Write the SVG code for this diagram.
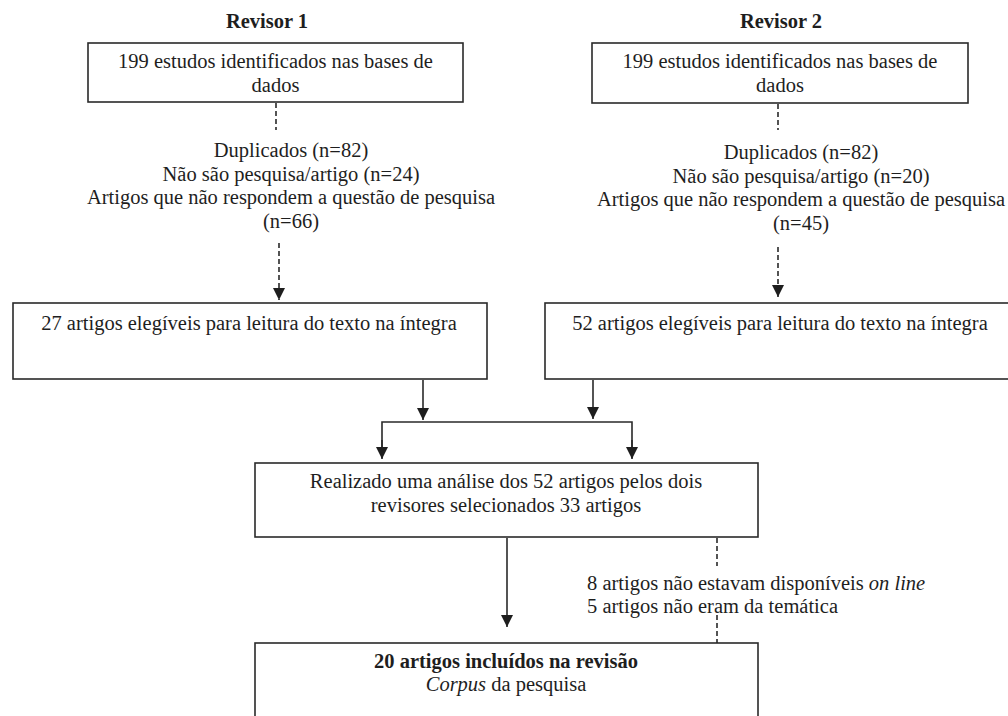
<svg xmlns="http://www.w3.org/2000/svg" width="1008" height="716" viewBox="0 0 1008 716">
<style>
  text { font-family: "Times New Roman", "Liberation Serif", Tinos, "DejaVu Serif", serif; font-size: 20.5px; font-weight: 400; fill: #1e1e1e; }
  .c { text-anchor: middle; }
  .b { font-weight: 700; }
  .box { fill: #ffffff; stroke: #2a2a2a; stroke-width: 1.6; }
  .ln { fill: none; stroke: #2a2a2a; stroke-width: 1.6; }
  .dash { fill: none; stroke: #2a2a2a; stroke-width: 1.6; stroke-dasharray: 5 3; }
</style>
<defs>
  <marker id="arr" viewBox="0 0 12 12" refX="12" refY="6" markerWidth="12" markerHeight="12" markerUnits="userSpaceOnUse" orient="auto">
    <path d="M0,0 L12,6 L0,12 z" fill="#1e1e1e"/>
  </marker>
</defs>
<rect width="1008" height="716" fill="#ffffff"/>

<g id="titles">
  <text class="c b" x="267" y="28">Revisor 1</text>
  <text class="c b" x="781" y="28">Revisor 2</text>
</g>

<g id="connectors">
  <line class="dash" x1="276" y1="103" x2="276" y2="130"/>
  <line class="dash" x1="279" y1="243" x2="279" y2="300" marker-end="url(#arr)"/>
  <line class="dash" x1="778" y1="104" x2="778" y2="130"/>
  <line class="dash" x1="778" y1="247" x2="778" y2="297" marker-end="url(#arr)"/>
  <line class="ln" x1="423" y1="380" x2="423" y2="420" marker-end="url(#arr)"/>
  <line class="ln" x1="593" y1="380" x2="593" y2="419" marker-end="url(#arr)"/>
  <polyline class="ln" points="382,458 382,422 632,422 632,458"/>
  <line class="ln" x1="382" y1="440" x2="382" y2="459" marker-end="url(#arr)"/>
  <line class="ln" x1="632" y1="440" x2="632" y2="459" marker-end="url(#arr)"/>
  <line class="ln" x1="507" y1="538" x2="507" y2="627" marker-end="url(#arr)"/>
  <line class="dash" x1="717" y1="538" x2="717" y2="566"/>
  <line class="dash" x1="717" y1="615" x2="717" y2="643"/>
</g>

<g id="node-r1-identificados">
  <rect class="box" x="88" y="43" width="375" height="59"/>
  <text class="c" x="275.5" y="68">199 estudos identificados nas bases de</text>
  <text class="c" x="275.5" y="92">dados</text>
</g>

<g id="node-r2-identificados">
  <rect class="box" x="592" y="43" width="376" height="60"/>
  <text class="c" x="780" y="68">199 estudos identificados nas bases de</text>
  <text class="c" x="780" y="92">dados</text>
</g>

<g id="label-r1-exclusoes">
  <text class="c" x="291" y="157">Duplicados (n=82)</text>
  <text class="c" x="291" y="180.5">Não são pesquisa/artigo (n=24)</text>
  <text class="c" x="291" y="204">Artigos que não respondem a questão de pesquisa</text>
  <text class="c" x="291" y="227.5">(n=66)</text>
</g>

<g id="label-r2-exclusoes">
  <text class="c" x="801" y="159">Duplicados (n=82)</text>
  <text class="c" x="801" y="182.5">Não são pesquisa/artigo (n=20)</text>
  <text class="c" x="801" y="206">Artigos que não respondem a questão de pesquisa</text>
  <text class="c" x="801" y="229.5">(n=45)</text>
</g>

<g id="node-r1-elegiveis">
  <rect class="box" x="13" y="303" width="474" height="76"/>
  <text class="c" x="249" y="330">27 artigos elegíveis para leitura do texto na íntegra</text>
</g>

<g id="node-r2-elegiveis">
  <rect class="box" x="545" y="303" width="470" height="76"/>
  <text class="c" x="780" y="330">52 artigos elegíveis para leitura do texto na íntegra</text>
</g>

<g id="node-analise">
  <rect class="box" x="255" y="463" width="503" height="74"/>
  <text class="c" x="506" y="488">Realizado uma análise dos 52 artigos pelos dois</text>
  <text class="c" x="506" y="512">revisores selecionados 33 artigos</text>
</g>

<g id="label-exclusoes-final">
  <text x="587" y="590">8 artigos não estavam disponíveis <tspan font-style="italic">on line</tspan></text>
  <text x="587" y="613">5 artigos não eram da temática</text>
</g>

<g id="node-incluidos">
  <rect class="box" x="255" y="643" width="503" height="90"/>
  <text class="c b" x="506" y="668">20 artigos incluídos na revisão</text>
  <text class="c" x="506" y="691"><tspan font-style="italic">Corpus</tspan> da pesquisa</text>
</g>
</svg>
